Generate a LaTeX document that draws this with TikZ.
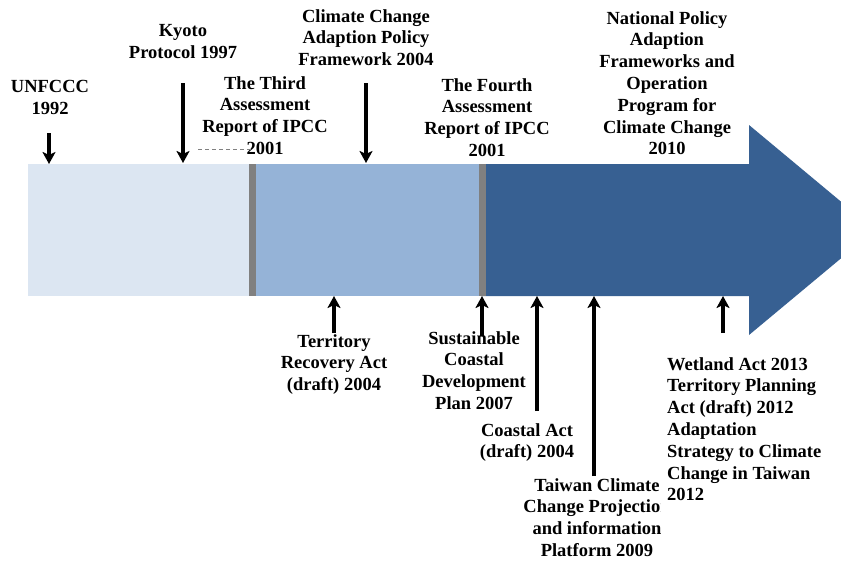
\documentclass[tikz,border=0pt]{standalone}
\usepackage{fontspec}
\setmainfont{Liberation Serif}
\usetikzlibrary{arrows.meta}
\definecolor{segA}{HTML}{DCE6F2}
\definecolor{segB}{HTML}{95B3D7}
\definecolor{segC}{HTML}{376092}
\definecolor{divider}{HTML}{808080}
\begin{document}
\begin{tikzpicture}[x=1pt,y=-1pt,
  lbl/.style={font=\bfseries\fontsize{18.5}{21.8}\selectfont, align=center, inner sep=0pt, anchor=north},
  lblL/.style={lbl, align=left, anchor=north west},
  evt/.style={line width=3.2pt, -{Stealth[length=12pt,width=13pt,inset=3pt]}}]
\useasboundingbox (0,0) rectangle (841,562);
\begin{scope}
\clip (0,0) rectangle (841,562);
% bar
\fill[segA] (28,164) rectangle (252,296);
\fill[segB] (252,164) rectangle (482,296);
\fill[segC] (482,164) -- (749,164) -- (749,125) -- (875,230) -- (749,335) -- (749,296) -- (482,296) -- cycle;
\fill[divider] (249,164) rectangle (256,296);
\fill[divider] (479,164) rectangle (486,296);
\end{scope}
% labels above
\node[lbl] (unf) at (50,80) {UNFCCC\\1992};
\node[lbl] (kyo) at (183,24) {Kyoto\\Protocol 1997};
\node[lbl] (tar) at (265,76) {The Third\\Assessment\\Report of IPCC\\2001};
\node[lbl] (ccap) at (366,9) {Climate Change\\Adaption Policy\\Framework 2004};
\node[lbl] (far) at (487,78) {The Fourth\\Assessment\\Report of IPCC\\2001};
\node[lbl] (npa) at (667,11) {National Policy\\Adaption\\Frameworks and\\Operation\\Program for\\Climate Change\\2010};
% labels below
\node[lbl] (tra) at (334,334) {Territory\\Recovery Act\\(draft) 2004};
\node[lbl] (scd) at (474,331) {Sustainable\\Coastal\\Development\\Plan 2007};
\node[lbl] (ca) at (527,423) {Coastal Act\\(draft) 2004};
\begin{scope}
\clip (400,470) rectangle (660,562);
\node[lbl] (tcc) at (597,478) {Taiwan Climate\\Change Projection\\and information\\Platform 2009};
\end{scope}
\node[lblL] (wet) at (667,357) {Wetland Act 2013\\Territory Planning\\Act (draft) 2012\\Adaptation\\Strategy to Climate\\Change in Taiwan\\2012};
% anchor points on the bar
\coordinate (unfS) at (49,133);
\coordinate (unfE) at (49,164);
\coordinate (kyoS) at (183,83);
\coordinate (kyoE) at (183,163);
\coordinate (ccapS) at (366,83);
\coordinate (ccapE) at (366,163);
\coordinate (traS) at (334,333);
\coordinate (traE) at (334,296);
\coordinate (scdS) at (482,336);
\coordinate (scdE) at (482,296);
\coordinate (caS) at (537,411);
\coordinate (caE) at (537,296);
\coordinate (tccS) at (594,476);
\coordinate (tccE) at (594,296);
\coordinate (wetS) at (723,333);
\coordinate (wetE) at (723,296);
\coordinate (dashA) at (198,149);
\coordinate (dashB) at (254,149);
% connectors
\draw[evt] (unfS) -- (unfE);
\draw[evt] (kyoS) -- (kyoE);
\draw[evt] (ccapS) -- (ccapE);
\draw[evt] (traS) -- (traE);
\draw[evt] (scdS) -- (scdE);
\draw[evt] (caS) -- (caE);
\draw[evt] (tccS) -- (tccE);
\draw[evt] (wetS) -- (wetE);
\draw[divider, line width=0.8pt, dash pattern=on 4pt off 3pt] (dashA) -- (dashB);
\end{tikzpicture}
\end{document}
